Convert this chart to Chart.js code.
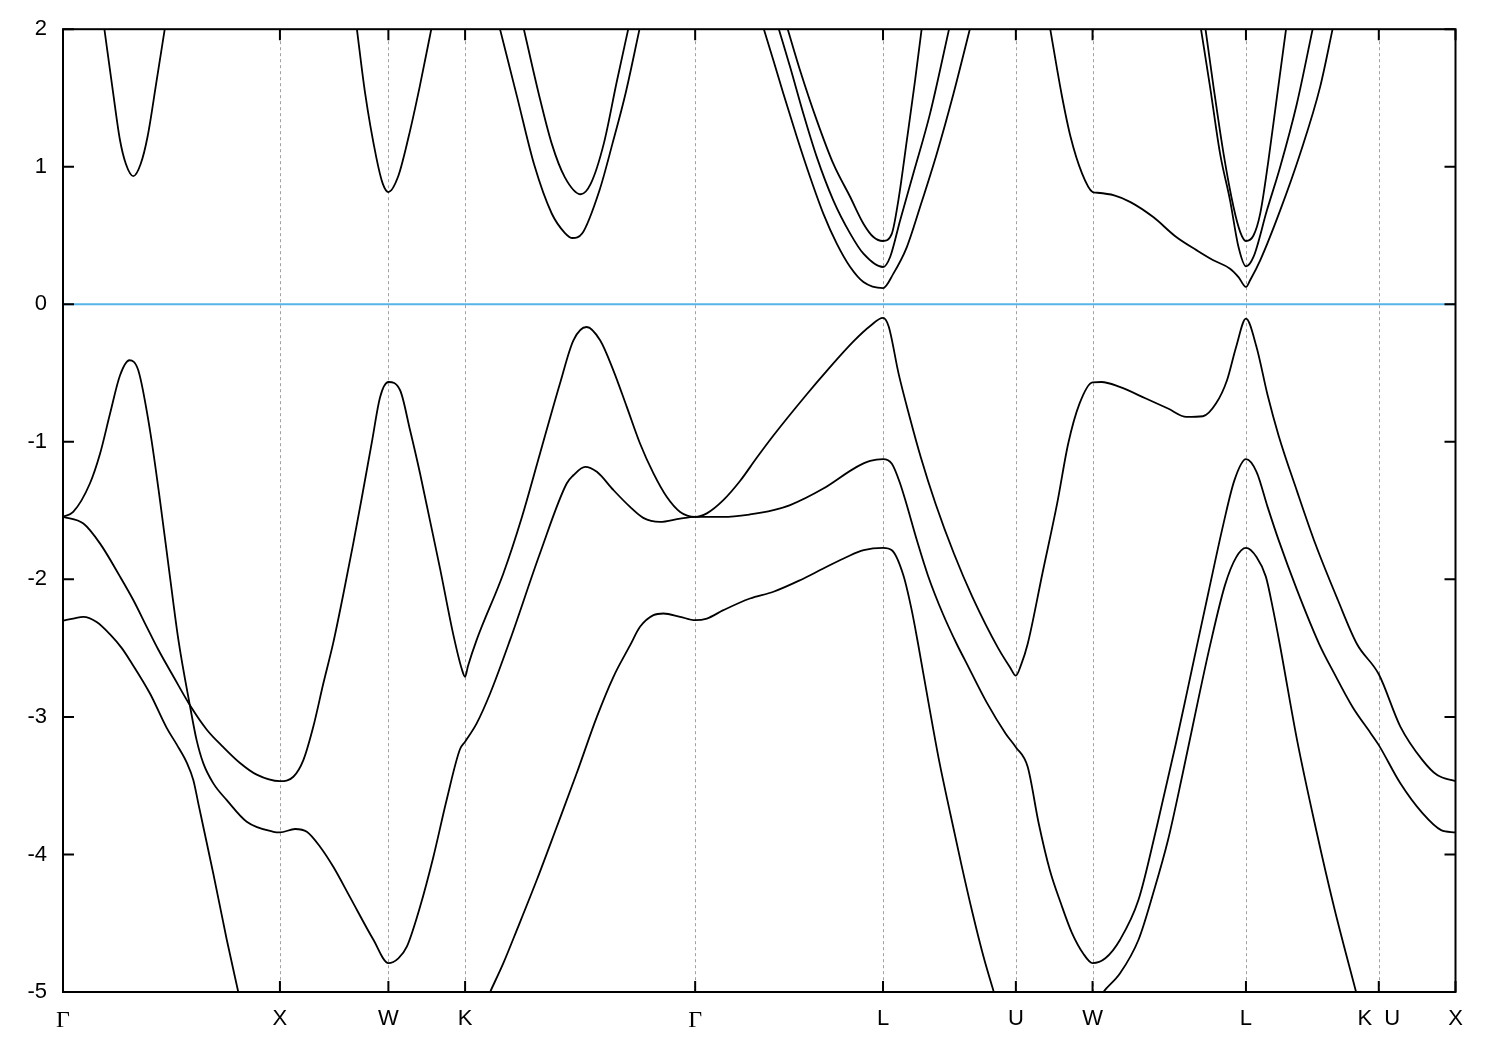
<!DOCTYPE html>
<html>
<head>
<meta charset="utf-8">
<title>Band structure</title>
<script src="https://cdn.jsdelivr.net/npm/chart.js@4.4.1/dist/chart.umd.min.js"></script>
<style>
  html, body { margin: 0; padding: 0; background: #fff; }
  #wrap { width: 1500px; height: 1050px; position: relative; }
</style>
</head>
<body>
<div id="wrap"><canvas id="bands"></canvas></div>
<script>
// high symmetry points along the k-path
const symK = [0, 1, 1.5, 1.8536, 2.9142, 3.7802, 4.3926, 4.7462, 5.4533, 6.0657, 6.4193];
const symLabels = ['Γ', 'X', 'W', 'K', 'Γ', 'L', 'U', 'W', 'L', 'K  U', 'X'];
const energyMin = -5;
const energyMax = 2;
const fermiLevel = 0;

// valence bands, [k, E] pairs
const vb1 = [[0,-2.30],[0.047,-2.285],[0.094,-2.272],[0.155,-2.31],[0.217,-2.40],[0.271,-2.50],[0.309,-2.59],[0.401,-2.83],[0.478,-3.08],[0.524,-3.20],[0.570,-3.33],[0.601,-3.46],[0.624,-3.63],[0.647,-3.80],[0.693,-4.14],[0.755,-4.62],[0.808,-5.0],[0.839,-5.22]];

const vb2 = [[0,-1.545],[0.094,-1.594],[0.171,-1.74],[0.263,-1.98],[0.324,-2.15],[0.386,-2.345],[0.439,-2.51],[0.509,-2.706],[0.586,-2.917],[0.663,-3.093],[0.739,-3.22],[0.816,-3.335],[0.893,-3.42],[1.0,-3.467],[1.062,-3.435],[1.108,-3.314],[1.154,-3.07],[1.200,-2.757],[1.246,-2.46],[1.292,-2.11],[1.338,-1.74],[1.377,-1.41],[1.423,-1.01],[1.462,-0.674],[1.5,-0.565],[1.554,-0.625],[1.600,-0.916],[1.646,-1.23],[1.692,-1.575],[1.738,-1.92],[1.799,-2.40],[1.838,-2.65],[1.8536,-2.708],[1.867,-2.63],[1.907,-2.44],[2.030,-1.957],[2.115,-1.55],[2.199,-1.085],[2.291,-0.576],[2.353,-0.262],[2.414,-0.165],[2.476,-0.262],[2.537,-0.48],[2.599,-0.746],[2.660,-1.012],[2.722,-1.23],[2.783,-1.40],[2.845,-1.51],[2.9142,-1.546],[2.968,-1.52],[3.044,-1.424],[3.121,-1.285],[3.198,-1.116],[3.275,-0.954],[3.429,-0.654],[3.521,-0.484],[3.644,-0.27],[3.721,-0.158],[3.7802,-0.099],[3.806,-0.16],[3.852,-0.504],[3.903,-0.819],[3.954,-1.11],[4.022,-1.448],[4.107,-1.812],[4.192,-2.127],[4.311,-2.50],[4.366,-2.64],[4.3926,-2.70],[4.417,-2.62],[4.447,-2.47],[4.515,-1.957],[4.583,-1.448],[4.634,-1.012],[4.686,-0.722],[4.7462,-0.567],[4.787,-0.565],[4.871,-0.601],[4.992,-0.685],[5.094,-0.758],[5.179,-0.819],[5.255,-0.814],[5.315,-0.722],[5.366,-0.552],[5.408,-0.31],[5.4533,-0.104],[5.502,-0.31],[5.553,-0.66],[5.604,-0.955],[5.689,-1.36],[5.774,-1.745],[5.877,-2.15],[5.965,-2.47],[6.0657,-2.69],[6.165,-3.07],[6.267,-3.314],[6.335,-3.423],[6.4193,-3.467]];

const vb3 = [[0,-1.545],[0.047,-1.51],[0.124,-1.303],[0.171,-1.085],[0.217,-0.794],[0.263,-0.516],[0.306,-0.407],[0.347,-0.48],[0.401,-0.916],[0.447,-1.424],[0.493,-1.98],[0.532,-2.44],[0.586,-2.926],[0.616,-3.169],[0.647,-3.338],[0.693,-3.483],[0.755,-3.605],[0.847,-3.762],[0.970,-3.835],[1.0,-3.84],[1.070,-3.815],[1.124,-3.835],[1.185,-3.944],[1.246,-4.09],[1.323,-4.31],[1.431,-4.62],[1.5,-4.79],[1.546,-4.755],[1.585,-4.67],[1.646,-4.38],[1.707,-4.02],[1.769,-3.60],[1.830,-3.235],[1.8536,-3.18],[1.907,-3.047],[1.969,-2.83],[2.061,-2.44],[2.199,-1.81],[2.322,-1.303],[2.353,-1.243],[2.407,-1.182],[2.461,-1.218],[2.537,-1.35],[2.614,-1.473],[2.675,-1.553],[2.752,-1.582],[2.845,-1.558],[2.9142,-1.546],[3.044,-1.546],[3.167,-1.528],[3.275,-1.497],[3.352,-1.46],[3.505,-1.34],[3.659,-1.182],[3.721,-1.139],[3.7802,-1.126],[3.821,-1.16],[3.859,-1.303],[3.886,-1.44],[3.937,-1.72],[3.988,-1.975],[4.056,-2.25],[4.12,-2.47],[4.158,-2.587],[4.260,-2.90],[4.345,-3.12],[4.3926,-3.22],[4.447,-3.363],[4.498,-3.775],[4.549,-4.113],[4.600,-4.355],[4.651,-4.57],[4.703,-4.72],[4.7462,-4.79],[4.805,-4.755],[4.873,-4.62],[4.958,-4.33],[5.042,-3.80],[5.128,-3.21],[5.179,-2.84],[5.225,-2.50],[5.281,-2.09],[5.349,-1.60],[5.400,-1.28],[5.4533,-1.126],[5.502,-1.218],[5.553,-1.473],[5.604,-1.715],[5.689,-2.078],[5.791,-2.47],[5.859,-2.68],[5.944,-2.926],[6.029,-3.12],[6.0657,-3.205],[6.165,-3.483],[6.267,-3.70],[6.353,-3.823],[6.4193,-3.84]];

const vb4 = [[1.941,-5.1],[1.969,-5.0],[2.030,-4.79],[2.092,-4.55],[2.184,-4.186],[2.276,-3.80],[2.368,-3.41],[2.461,-3.0],[2.537,-2.71],[2.614,-2.48],[2.660,-2.345],[2.722,-2.26],[2.768,-2.248],[2.845,-2.272],[2.9142,-2.297],[2.968,-2.285],[3.044,-2.224],[3.167,-2.139],[3.275,-2.09],[3.398,-2.006],[3.505,-1.921],[3.613,-1.837],[3.691,-1.788],[3.7802,-1.771],[3.821,-1.788],[3.874,-1.97],[3.912,-2.22],[3.942,-2.47],[3.988,-2.88],[4.039,-3.32],[4.090,-3.70],[4.141,-4.07],[4.192,-4.42],[4.243,-4.74],[4.291,-5.0],[4.320,-5.15]];

const vb5 = [[4.746,-5.12],[4.796,-5.0],[4.873,-4.864],[4.958,-4.62],[5.026,-4.28],[5.094,-3.895],[5.162,-3.41],[5.230,-2.90],[5.285,-2.50],[5.357,-2.04],[5.408,-1.84],[5.4533,-1.771],[5.502,-1.837],[5.545,-1.98],[5.579,-2.224],[5.609,-2.47],[5.689,-3.169],[5.774,-3.80],[5.859,-4.38],[5.961,-5.0],[5.989,-5.17]];

// conduction bands
const cb1 = [[0.190,2.01],[0.230,1.55],[0.262,1.20],[0.290,1.02],[0.324,0.932],[0.358,1.02],[0.390,1.22],[0.430,1.61],[0.470,2.01]];
const cb2 = [[1.354,2.01],[1.393,1.531],[1.444,1.07],[1.474,0.877],[1.5,0.816],[1.544,0.925],[1.593,1.216],[1.644,1.579],[1.699,2.01]];
const cb3 = [[2.013,2.01],[2.093,1.51],[2.173,1.01],[2.253,0.66],[2.313,0.52],[2.349,0.482],[2.393,0.514],[2.473,0.828],[2.533,1.168],[2.593,1.531],[2.659,2.01]];
const cb4 = [[2.123,2.01],[2.193,1.531],[2.253,1.168],[2.313,0.925],[2.387,0.80],[2.433,0.877],[2.493,1.168],[2.553,1.62],[2.607,2.01]];
const cb5 = [[3.229,2.01],[3.275,1.773],[3.321,1.531],[3.383,1.216],[3.444,0.925],[3.505,0.659],[3.567,0.441],[3.629,0.271],[3.690,0.162],[3.7802,0.118],[3.828,0.223],[3.890,0.416],[3.951,0.707],[4.028,1.095],[4.105,1.531],[4.182,2.01]];
const cb6 = [[3.298,2.01],[3.352,1.725],[3.413,1.386],[3.475,1.07],[3.551,0.756],[3.629,0.514],[3.690,0.368],[3.7802,0.271],[3.813,0.344],[3.859,0.61],[3.920,0.95],[3.997,1.386],[4.086,2.01]];
const cb7 = [[3.339,2.01],[3.398,1.70],[3.475,1.337],[3.551,1.022],[3.629,0.78],[3.690,0.586],[3.736,0.489],[3.7802,0.46],[3.821,0.514],[3.851,0.756],[3.890,1.192],[3.928,1.628],[3.959,2.01]];
const cb8 = [[4.550,2.01],[4.603,1.531],[4.645,1.216],[4.698,0.95],[4.7462,0.816],[4.76,0.812],[4.846,0.792],[4.921,0.743],[5.026,0.634],[5.132,0.489],[5.227,0.392],[5.303,0.32],[5.380,0.259],[5.419,0.198],[5.4533,0.126],[5.473,0.177],[5.519,0.32],[5.611,0.683],[5.703,1.095],[5.795,1.579],[5.854,2.01]];
const cb9 = [[5.245,2.01],[5.288,1.579],[5.334,1.095],[5.380,0.756],[5.419,0.416],[5.4533,0.276],[5.488,0.344],[5.550,0.683],[5.611,0.998],[5.688,1.458],[5.762,2.01]];
const cb10 = [[5.266,2.01],[5.304,1.579],[5.350,1.095],[5.396,0.707],[5.427,0.525],[5.4533,0.46],[5.488,0.50],[5.519,0.659],[5.557,1.047],[5.596,1.507],[5.639,2.01]];

const bands = [vb1, vb2, vb3, vb4, vb5, cb1, cb2, cb3, cb4, cb5, cb6, cb7, cb8, cb9, cb10];

// gnuplot look: dashed lines at the symmetry points, frame with inward ticks
const framePlugin = {
    id: 'frame',
    beforeDatasetsDraw(chart) {
        const { ctx, chartArea: a, scales } = chart;
        ctx.save();
        ctx.strokeStyle = '#a0a0a0';
        ctx.lineWidth = 1;
        ctx.setLineDash([3, 3]);
        symK.slice(1, -1).forEach(k => {
            const px = Math.round(scales.x.getPixelForValue(k)) + 0.5;
            ctx.beginPath();
            ctx.moveTo(px, a.top);
            ctx.lineTo(px, a.bottom);
            ctx.stroke();
        });
        ctx.restore();
    },
    afterDatasetsDraw(chart) {
        const { ctx, chartArea: a, scales } = chart;
        const len = 11;
        ctx.save();
        ctx.strokeStyle = '#000';
        ctx.lineWidth = 2;
        ctx.beginPath();
        scales.y.ticks.forEach(t => {
            const py = scales.y.getPixelForValue(t.value);
            ctx.moveTo(a.left, py); ctx.lineTo(a.left + len, py);
            ctx.moveTo(a.right, py); ctx.lineTo(a.right - len, py);
        });
        symK.forEach(k => {
            const px = scales.x.getPixelForValue(k);
            ctx.moveTo(px, a.bottom); ctx.lineTo(px, a.bottom - len);
            ctx.moveTo(px, a.top); ctx.lineTo(px, a.top + len);
        });
        ctx.stroke();
        ctx.strokeRect(a.left, a.top, a.right - a.left, a.bottom - a.top);
        ctx.restore();
    }
};

const datasets = bands.map(b => ({
    data: b.map(p => ({ x: p[0], y: p[1] })),
    showLine: true,
    borderColor: '#000',
    borderWidth: 1.8,
    pointRadius: 0,
    fill: false,
    cubicInterpolationMode: 'monotone'
}));

datasets.push({
    data: [{ x: symK[0], y: fermiLevel }, { x: symK[symK.length - 1], y: fermiLevel }],
    showLine: true,
    borderColor: '#56b4e9',
    borderWidth: 2,
    pointRadius: 0,
    fill: false
});

new Chart(document.getElementById('bands'), {
    type: 'scatter',
    data: { datasets: datasets },
    options: {
        responsive: true,
        maintainAspectRatio: false,
        animation: false,
        events: [],
        layout: { padding: { top: 28, right: 44.5, bottom: 0, left: 0 } },
        plugins: { legend: { display: false }, tooltip: { enabled: false } },
        scales: {
            x: {
                type: 'linear',
                min: symK[0],
                max: symK[symK.length - 1],
                grid: { display: false, drawTicks: false },
                border: { display: false },
                afterBuildTicks: scale => { scale.ticks = symK.map(v => ({ value: v })); },
                afterFit: scale => { scale.height = 58; },
                ticks: {
                    autoSkip: false,
                    maxRotation: 0,
                    padding: 14,
                    color: '#000',
                    callback: (value, index) => symLabels[index],
                    font: ctx => symLabels[ctx.index] === 'Γ'
                        ? { family: 'Liberation Serif', size: 24 }
                        : { family: 'Liberation Sans', size: 22 }
                }
            },
            y: {
                min: energyMin,
                max: energyMax,
                grid: { display: false, drawTicks: false },
                border: { display: false },
                afterFit: scale => { scale.width = 63; },
                ticks: {
                    stepSize: 1,
                    padding: 16,
                    color: '#000',
                    font: { family: 'Liberation Sans', size: 22 }
                }
            }
        }
    },
    plugins: [framePlugin]
});
</script>
</body>
</html>
